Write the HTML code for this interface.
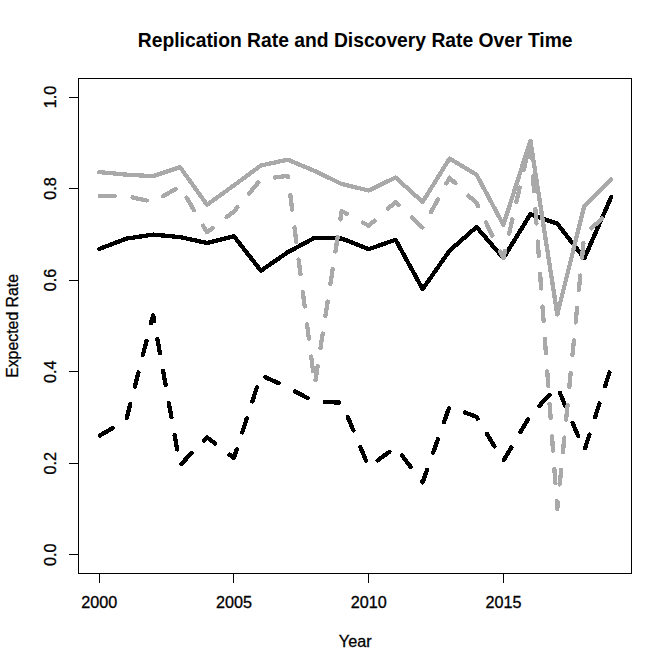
<!DOCTYPE html>
<html lang="en"><head><meta charset="utf-8"><title>Replication Rate and Discovery Rate Over Time</title>
<style>
html,body{margin:0;padding:0;background:#fff;}
body{width:672px;height:671px;overflow:hidden;}
svg{display:block;}
text{font-family:"Liberation Sans",Arial,sans-serif;fill:#000;}
.ax{font-size:16.2px;stroke:#000;stroke-width:0.3px;}
.yl{font-size:15.85px;}
.ttl{font-size:19.3px;font-weight:bold;}
</style></head><body>
<svg width="672" height="671" viewBox="0 0 672 671">
<rect width="672" height="671" fill="#fff"/>

<g fill="none" stroke-linejoin="round" stroke-linecap="round" shape-rendering="crispEdges" stroke-width="4.3">
<polyline stroke="#000" points="99.2,249.0 126.1,238.7 153.1,234.6 180.0,237.1 207.0,243.0 233.9,236.2 260.9,270.7 287.8,252.2 314.8,237.7 341.7,238.5 368.7,249.2 395.6,239.7 422.6,289.1 449.5,250.8 476.5,227.0 503.4,258.2 530.4,214.2 557.3,223.7 584.3,258.3 611.2,197.1"/>
<polyline stroke="#000" stroke-dasharray="14.6 18" stroke-dashoffset="-0.8" points="99.2,435.9 126.1,420.4 153.1,315.1 180.0,465.2 207.0,437.3 233.9,458.0 260.9,375.1 287.8,387.5 314.8,402.0 341.7,402.5 368.7,466.9 395.6,447.3 422.6,482.3 449.5,406.7 476.5,416.8 503.4,460.9 530.4,415.3 557.3,386.7 584.3,450.6 611.2,367.1"/>
<polyline stroke="#A9A9A9" points="99.2,172.1 126.1,174.6 153.1,176.2 180.0,167.1 207.0,204.8 233.9,185.4 260.9,165.5 287.8,159.7 314.8,171.0 341.7,184.0 368.7,190.5 395.6,177.5 422.6,202.0 449.5,158.6 476.5,174.6 503.4,224.8 530.4,140.7 557.3,314.5 584.3,206.0 611.2,179.2"/>
<polyline stroke="#A9A9A9" stroke-dasharray="14.6 17.95" stroke-dashoffset="-0.8" points="99.2,196.0 126.1,196.1 153.1,201.9 180.0,186.5 207.0,232.3 233.9,211.5 260.9,179.4 287.8,175.8 314.8,384.5 341.7,211.0 368.7,225.8 395.6,202.0 422.6,227.7 449.5,177.7 476.5,203.2 503.4,258.2 530.4,141.2 557.3,509.0 584.3,234.8 611.2,210.1"/>
</g>
<g fill="none" stroke="#000" stroke-width="1" shape-rendering="crispEdges">
<rect x="78.5" y="78.5" width="553" height="495"/>
<line x1="99.5" y1="573.5" x2="99.5" y2="583"/>
<line x1="233.5" y1="573.5" x2="233.5" y2="583"/>
<line x1="368.5" y1="573.5" x2="368.5" y2="583"/>
<line x1="503.5" y1="573.5" x2="503.5" y2="583"/>
<line x1="69" y1="554.5" x2="78.5" y2="554.5"/>
<line x1="69" y1="463.5" x2="78.5" y2="463.5"/>
<line x1="69" y1="371.5" x2="78.5" y2="371.5"/>
<line x1="69" y1="280.5" x2="78.5" y2="280.5"/>
<line x1="69" y1="188.5" x2="78.5" y2="188.5"/>
<line x1="69" y1="97.5" x2="78.5" y2="97.5"/>
</g>
<text class="ax" text-anchor="middle" x="99.2" y="608">2000</text>
<text class="ax" text-anchor="middle" x="233.9" y="608">2005</text>
<text class="ax" text-anchor="middle" x="368.7" y="608">2010</text>
<text class="ax" text-anchor="middle" x="503.4" y="608">2015</text>
<text class="ax" text-anchor="middle" transform="translate(56.2,554.8) rotate(-90)">0.0</text>
<text class="ax" text-anchor="middle" transform="translate(56.2,463.2) rotate(-90)">0.2</text>
<text class="ax" text-anchor="middle" transform="translate(56.2,371.7) rotate(-90)">0.4</text>
<text class="ax" text-anchor="middle" transform="translate(56.2,280.1) rotate(-90)">0.6</text>
<text class="ax" text-anchor="middle" transform="translate(56.2,188.6) rotate(-90)">0.8</text>
<text class="ax" text-anchor="middle" transform="translate(56.2,97.0) rotate(-90)">1.0</text>
<text class="ax" text-anchor="middle" x="355.2" y="646.8">Year</text>
<text class="ax yl" text-anchor="middle" transform="translate(18.2,325.9) rotate(-90)">Expected Rate</text>
<text class="ttl" text-anchor="middle" x="355.2" y="47">Replication Rate and Discovery Rate Over Time</text>
</svg></body></html>
